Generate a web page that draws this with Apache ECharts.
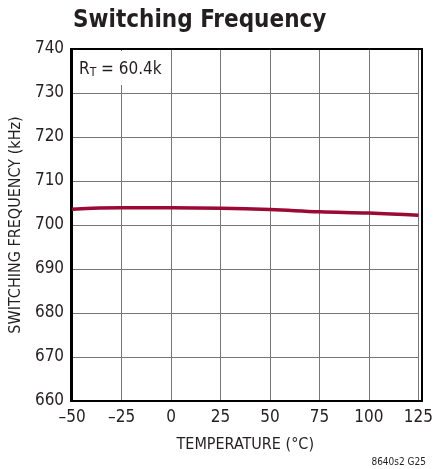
<!DOCTYPE html>
<html><head><meta charset="utf-8">
<script src="https://cdn.jsdelivr.net/npm/echarts@6/dist/echarts.min.js"></script>
<style>html,body{margin:0;padding:0;background:#fff}#c{width:436px;height:469px}</style>
</head><body><div id="c"></div>
<script>
var temps = [-50, -25, 0, 25, 50, 75, 100, 125];
var freqs = [703.6, 703.9, 703.9, 703.8, 703.5, 703.0, 702.7, 702.2];
var FONT = '"Liberation Sans Narrow","DejaVu Sans Condensed","Liberation Sans",sans-serif';
var chart = echarts.init(document.getElementById('c'));
chart.setOption({
  animation: false,
  title: {text: 'Switching Frequency', left: 68, top: 4,
    textStyle: {fontFamily: FONT, fontSize: 24, fontWeight: 'bold', color: '#231f20'}},
  grid: {left: 71, right: 14, top: 49, bottom: 68, containLabel: false},
  xAxis: {type: 'value', min: -50, max: 125, interval: 25,
    name: 'TEMPERATURE (°C)', nameLocation: 'middle', nameGap: 36,
    nameTextStyle: {fontFamily: FONT, fontSize: 16, color: '#231f20'},
    axisLine: {show: true, onZero: false, lineStyle: {color: '#000', width: 2}},
    axisTick: {show: false},
    axisLabel: {fontFamily: FONT, fontSize: 17, color: '#231f20', margin: 8,
      formatter: function(v){return v < 0 ? '\u2013' + Math.abs(v) : String(v);}},
    splitLine: {show: true, lineStyle: {color: '#777', width: 1}}},
  yAxis: {type: 'value', min: 660, max: 740, interval: 10,
    name: 'SWITCHING FREQUENCY (kHz)', nameLocation: 'middle', nameGap: 46, nameRotate: 90,
    nameTextStyle: {fontFamily: FONT, fontSize: 16, color: '#231f20'},
    axisLine: {show: true, onZero: false, lineStyle: {color: '#000', width: 2}},
    axisTick: {show: false},
    axisLabel: {fontFamily: FONT, fontSize: 17, color: '#231f20', margin: 8},
    splitLine: {show: true, lineStyle: {color: '#777', width: 1}}},
  series: [{type: 'line', smooth: 0.4, showSymbol: false,
    data: temps.map(function(t, i){return [t, freqs[i]];}),
    lineStyle: {color: '#9a0a35', width: 3.5}}],
  graphic: [
    {type: 'rect', shape: {x: 73, y: 51, width: 96, height: 34}, style: {fill: '#fff'}, z: 50},
    {type: 'text', left: 79, top: 61, z: 51, style: {rich: {a: {fontFamily: FONT, fontSize: 17, fill: '#231f20'}, s: {fontFamily: FONT, fontSize: 12, fill: '#231f20', verticalAlign: 'bottom', padding: [6,0,0,0]}},
      text: '{a|R}{s|T}{a| = 60.4k}'}},
    {type: 'rect', shape: {x: 71, y: 49, width: 351, height: 352}, style: {fill: 'none', stroke: '#000', lineWidth: 2}, z: 60},
    {type: 'text', right: 10, top: 457, style: {text: '8640s2 G25', fontFamily: FONT, fontSize: 10, fill: '#231f20'}}
  ]
});
</script></body></html>
